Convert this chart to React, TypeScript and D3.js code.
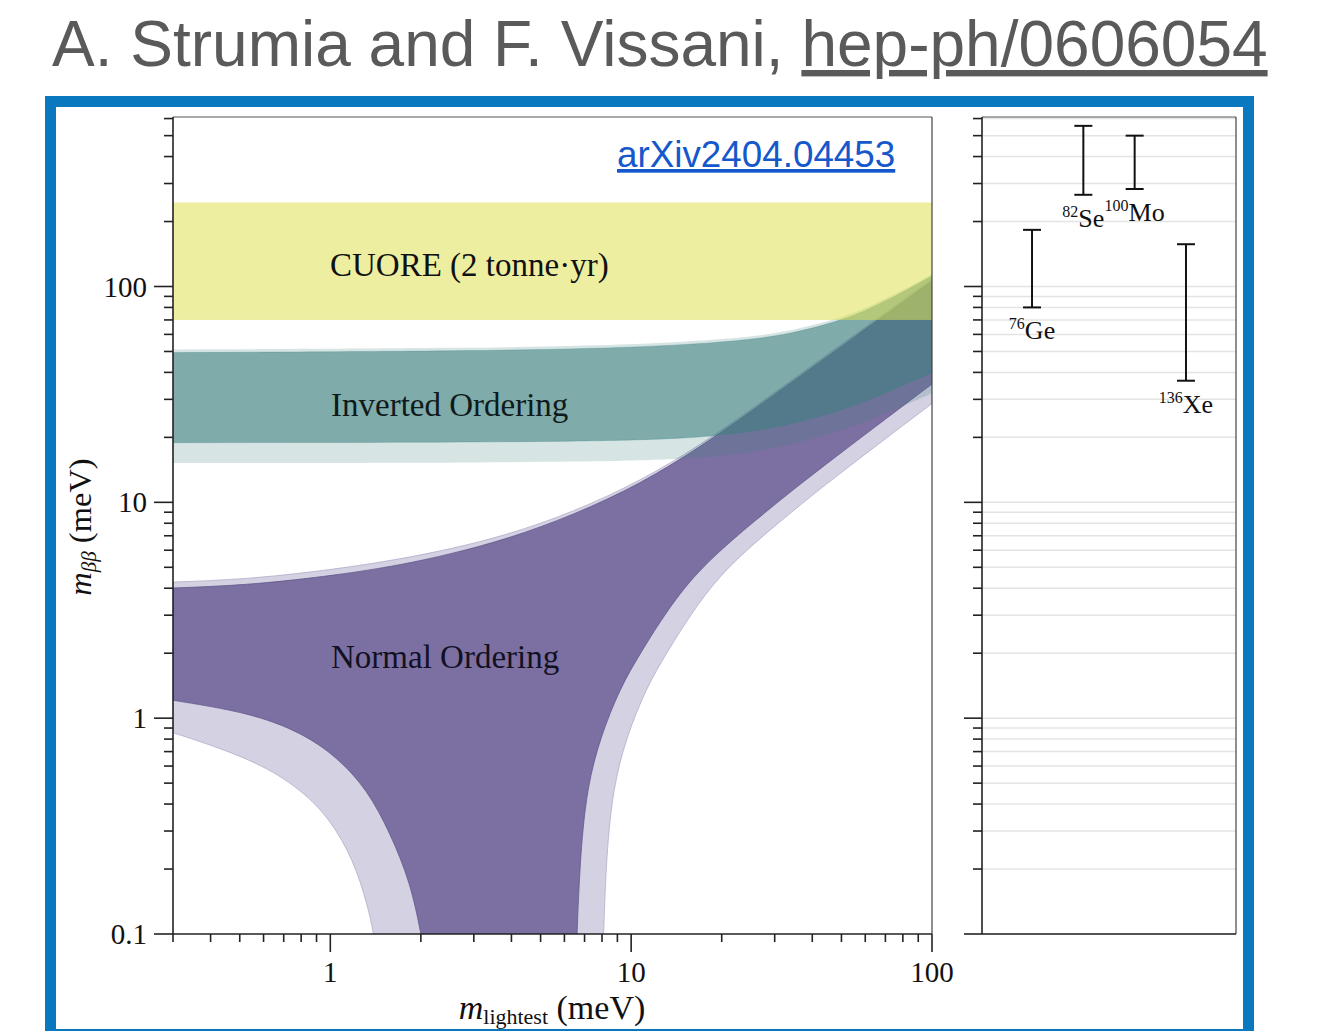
import React from "react";
import * as d3 from "d3";

// ---------- data (meV) ----------
const cuoreBand: [number, number] = [70, 245];

// Normal ordering, darker band
const noUpper: [number, number][] = [
  [0.3, 4.01], [0.542, 4.14], [1.055, 4.6], [1.71, 5.12], [2.51, 5.76], [3.88, 6.76], [6.43, 8.73],
  [10.73, 12.16], [16.98, 18.04], [24.9, 26.2], [36.5, 38.5], [53.5, 56.5], [100, 106],
];
const noLowerLeft: [number, number][] = [
  [0.3, 1.21], [0.54, 1.06], [0.8, 0.86], [1.055, 0.66], [1.33, 0.464], [1.58, 0.294], [1.85, 0.172], [2.0, 0.1],
];
const noLowerRight: [number, number][] = [
  [6.61, 0.1], [6.78, 0.237], [7.14, 0.479], [7.9, 0.817], [9.21, 1.39], [10.73, 2.0], [13.19, 3.17],
  [16.98, 5.01], [26.3, 8.42], [36.5, 12.16], [53.5, 18.3], [78.5, 27.4], [100, 35.3],
];
// Normal ordering, lighter band
const noUpperLight: [number, number][] = [
  [0.3, 4.27], [0.542, 4.41], [1.055, 4.91], [1.71, 5.46], [2.51, 6.08], [3.88, 7.06], [6.43, 9.02],
  [10.73, 12.55], [16.98, 18.4], [24.9, 26.8], [36.5, 39.3], [53.5, 57.7], [100, 108],
];
const noLowerLeftLight: [number, number][] = [
  [0.3, 0.856], [0.42, 0.735], [0.62, 0.593], [0.86, 0.431], [1.055, 0.303], [1.23, 0.198], [1.36, 0.12], [1.39, 0.1],
];
const noLowerRightLight: [number, number][] = [
  [8.1, 0.1], [8.28, 0.237], [8.72, 0.479], [9.64, 0.817], [11.25, 1.39], [13.1, 2.0], [16.1, 3.17],
  [20.7, 5.01], [32.1, 8.42], [44.5, 12.16], [65.3, 18.3], [100, 28.7],
];

// Inverted ordering
const ioUpper: [number, number][] = [
  [0.3, 49.4], [3, 50.2], [10, 52], [20, 55], [30, 58.5], [40, 64], [50, 70], [60, 77], [70, 86], [80, 94], [100, 112],
];
const ioLower: [number, number][] = [
  [0.3, 18.9], [10, 19], [20, 20.4], [30, 22], [50, 26.5], [70, 32], [100, 40],
];
const ioUpperLight: [number, number][] = [
  [0.3, 51], [3, 51.8], [10, 53.6], [20, 56.7], [30, 60.3], [40, 66], [50, 72], [60, 79], [70, 88], [80, 96], [100, 114],
];
const ioLowerLight: [number, number][] = [
  [0.3, 15.2], [10, 15.3], [20, 16.3], [30, 17.7], [50, 21.3], [70, 25.7], [100, 32],
];

// isotope limits (right panel)
const isotopes = ["76Ge", "82Se", "100Mo", "136Xe"];
const isoMass = ["76", "82", "100", "136"];
const isoSym = ["Ge", "Se", "Mo", "Xe"];
const limLow = [80, 266, 283, 36.6];
const limHigh = [183, 555, 500, 157];

// ticks
const yMajorTicks = [0.1, 1, 10, 100];
const yTickLabels = ["0.1", "1", "10", "100"];
const yMinorTicks = [
  0.2, 0.3, 0.4, 0.5, 0.6, 0.7, 0.8, 0.9,
  2, 3, 4, 5, 6, 7, 8, 9,
  20, 30, 40, 50, 60, 70, 80, 90,
  200, 300, 400, 500, 600,
];
const xMajorTicks = [1, 10, 100];
const xTickLabels = ["1", "10", "100"];
const xMinorTicks = [
  0.3, 0.4, 0.5, 0.6, 0.7, 0.8, 0.9,
  2, 3, 4, 5, 6, 7, 8, 9,
  20, 30, 40, 50, 60, 70, 80, 90,
];

// ---------- layout ----------
const W = 1321;
const H = 1031;
const L = 173, R = 932, T = 117, B = 934;
const PL = 982, PR = 1236;
const serif = "'Liberation Serif', 'DejaVu Serif', serif";
const sans = "'Liberation Sans', Arial, sans-serif";

export default function App() {
  const x = d3.scaleLog().domain([0.3, 100]).range([L, R]);
  const y = d3.scaleLog().domain([0.1, 610]).range([B, T]);
  const xi = d3.scalePoint<string>().domain(isotopes).range([PL, PR]).padding(0.975);

  const lineGen = d3
    .line<[number, number]>()
    .x((d) => x(d[0]))
    .y((d) => y(d[1]))
    .curve(d3.curveBasis);

  const region = (...segs: [number, number][][]) =>
    segs
      .map((s, i) => {
        const p = lineGen(s) || "";
        return i === 0 ? p : "L" + p.slice(1);
      })
      .join("") + "Z";
  const rev = (a: [number, number][]) => a.slice().reverse();

  const noLightPath = region(noUpperLight, rev(noLowerRightLight), rev(noLowerLeftLight));
  const noDarkPath = region(noUpper, rev(noLowerRight), rev(noLowerLeft));
  const ioLightPath = region(ioUpperLight, rev(ioLowerLight));
  const ioDarkPath = region(ioUpper, rev(ioLower));

  const allY = [...yMajorTicks, ...yMinorTicks];
  const tickColor = "#222";

  return (
    <svg
      width={W}
      height={H}
      style={{ position: "absolute", left: 0, top: 0, background: "#fff" }}
    >
      <defs>
        <clipPath id="plotClip">
          <rect x={L} y={T} width={R - L} height={B - T} />
        </clipPath>
      </defs>

      {/* title */}
      <text x={52} y={66} fontFamily={sans} fontSize={64} fill="#5a5a5a">
        A. Strumia and F. Vissani,{" "}
        <tspan style={{ textDecoration: "underline" }}>hep-ph/0606054</tspan>
      </text>

      {/* blue frame */}
      <rect x={50.5} y={101.5} width={1198} height={933} fill="#fff" stroke="#0a78bf" strokeWidth={11} />

      {/* bands */}
      <g clipPath="url(#plotClip)">
        <path d={noLightPath} fill="#d4d1e2" stroke="#a9a5c4" strokeWidth={0.7} />
        <path d={noDarkPath} fill="#7c70a2" stroke="#5a5086" strokeWidth={0.7} />
        <path d={ioLightPath} fill="#3e8181" fillOpacity={0.21} />
        <path d={ioDarkPath} fill="#3e8181" fillOpacity={0.57} stroke="#3e8181" strokeOpacity={0.4} strokeWidth={0.7} />
        <rect
          x={L}
          y={y(cuoreBand[1])}
          width={R - L}
          height={y(cuoreBand[0]) - y(cuoreBand[1])}
          fill="#dee052"
          fillOpacity={0.55}
        />
      </g>

      {/* band labels */}
      <text x={330} y={276} fontFamily={serif} fontSize={33} fill="#111">CUORE (2 tonne·yr)</text>
      <text x={331} y={416} fontFamily={serif} fontSize={33} fill="#0f1a1a">Inverted Ordering</text>
      <text x={331} y={668} fontFamily={serif} fontSize={33} fill="#111122">Normal Ordering</text>

      {/* arXiv link */}
      <text x={617} y={167} fontFamily={sans} fontSize={36.8} fill="#1558cc" style={{ textDecoration: "underline" }}>
        arXiv2404.04453
      </text>

      {/* main frame */}
      <line x1={L} x2={R} y1={T} y2={T} stroke="#555" strokeWidth={1.2} />
      <line x1={R} x2={R} y1={T} y2={B} stroke="#444" strokeWidth={1.2} />
      <line x1={L} x2={L} y1={T} y2={B} stroke={tickColor} strokeWidth={1.6} />
      <line x1={L} x2={R} y1={B} y2={B} stroke={tickColor} strokeWidth={1.6} />

      {/* y ticks main */}
      {yMajorTicks.map((t, i) => (
        <g key={"ym" + t}>
          <line x1={L - 19} x2={L} y1={y(t)} y2={y(t)} stroke={tickColor} strokeWidth={1.6} />
          <text x={147} y={y(t) + 10} textAnchor="end" fontFamily={serif} fontSize={29} fill="#111">
            {yTickLabels[i]}
          </text>
        </g>
      ))}
      {yMinorTicks.map((t) => (
        <line key={"yn" + t} x1={L - 9} x2={L} y1={y(t)} y2={y(t)} stroke={tickColor} strokeWidth={1.6} />
      ))}

      {/* x ticks */}
      {xMajorTicks.map((t, i) => (
        <g key={"xm" + t}>
          <line x1={x(t)} x2={x(t)} y1={B} y2={B + 18} stroke={tickColor} strokeWidth={1.6} />
          <text x={x(t)} y={982} textAnchor="middle" fontFamily={serif} fontSize={29} fill="#111">
            {xTickLabels[i]}
          </text>
        </g>
      ))}
      {xMinorTicks.map((t) => (
        <line key={"xn" + t} x1={x(t)} x2={x(t)} y1={B} y2={B + 8} stroke={tickColor} strokeWidth={1.6} />
      ))}

      {/* axis labels */}
      <text x={552} y={1019} textAnchor="middle" fontFamily={serif} fontSize={34} fill="#111">
        <tspan fontStyle="italic">m</tspan>
        <tspan fontSize={22} dy={5}>lightest</tspan>
        <tspan dy={-5}> (meV)</tspan>
      </text>
      <text
        transform="translate(91,527) rotate(-90)"
        textAnchor="middle"
        fontFamily={serif}
        fontSize={32.5}
        fill="#111"
      >
        <tspan fontStyle="italic">m</tspan>
        <tspan fontSize={21} fontStyle="italic" dy={5}>ββ</tspan>
        <tspan dy={-5}> (meV)</tspan>
      </text>

      {/* right panel */}
      {allY.map((t) => (
        <line key={"g" + t} x1={PL} x2={PR} y1={y(t)} y2={y(t)} stroke="#e4e4e4" strokeWidth={1.5} />
      ))}
      <line x1={PL} x2={PR} y1={T} y2={T} stroke="#555" strokeWidth={1.2} />
      <line x1={PR} x2={PR} y1={T} y2={B} stroke="#444" strokeWidth={1.2} />
      <line x1={PL} x2={PR} y1={B} y2={B} stroke={tickColor} strokeWidth={1.6} />
      <line x1={PL} x2={PL} y1={T} y2={B} stroke={tickColor} strokeWidth={1.6} />
      {yMajorTicks.map((t) => (
        <line key={"pym" + t} x1={PL - 18} x2={PL} y1={y(t)} y2={y(t)} stroke={tickColor} strokeWidth={1.6} />
      ))}
      {yMinorTicks.map((t) => (
        <line key={"pyn" + t} x1={PL - 9} x2={PL} y1={y(t)} y2={y(t)} stroke={tickColor} strokeWidth={1.6} />
      ))}

      {isotopes.map((iso, i) => {
        const cx = xi(iso) as number;
        const y0 = y(limLow[i]);
        const y1 = y(limHigh[i]);
        return (
          <g key={iso}>
            <line x1={cx} x2={cx} y1={y1} y2={y0} stroke="#111" strokeWidth={2} />
            <line x1={cx - 9} x2={cx + 9} y1={y1} y2={y1} stroke="#111" strokeWidth={2} />
            <line x1={cx - 9} x2={cx + 9} y1={y0} y2={y0} stroke="#111" strokeWidth={2} />
            <text x={cx} y={y0 + 32} textAnchor="middle" fontFamily={serif} fontSize={26} fill="#111">
              <tspan fontSize={16} dy={-10}>{isoMass[i]}</tspan>
              <tspan dy={10}>{isoSym[i]}</tspan>
            </text>
          </g>
        );
      })}
    </svg>
  );
}
